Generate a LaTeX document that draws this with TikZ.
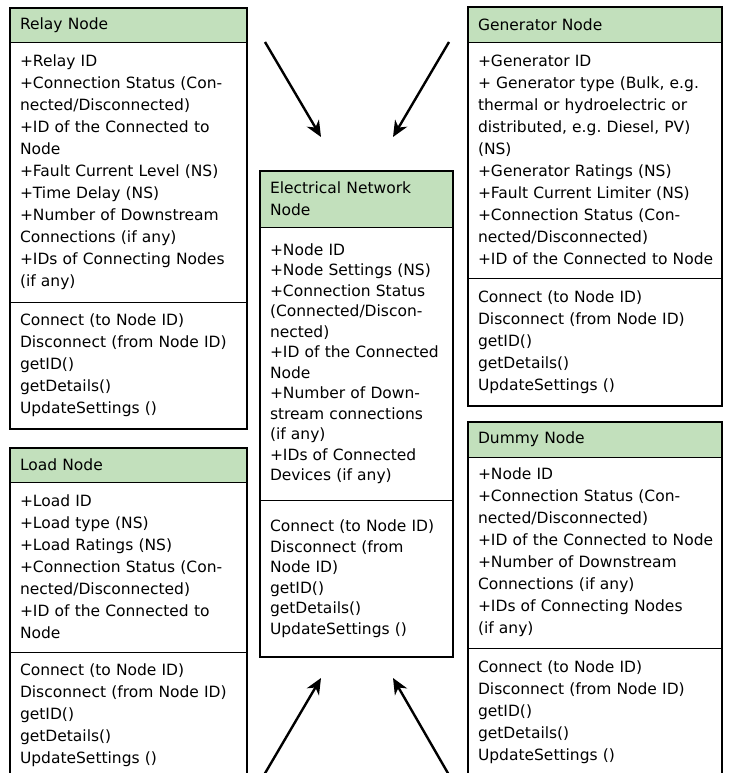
\documentclass[tikz,border=0pt]{standalone}
\usepackage{fontspec}
\newfontfamily\umlfont{DejaVu Sans}
\usepackage{tikz}
\usetikzlibrary{positioning, fit, arrows.meta}
\definecolor{headGreen}{RGB}{194,224,188}
\frenchspacing

\begin{document}
\begin{tikzpicture}[
                x=1pt, y=-1pt,
                % Box Styles
                classPart/.style = {rectangle, draw, line width=0.9pt, inner xsep=10pt, inner ysep=0pt, outer sep=0pt, align=left, font=\umlfont\fontsize{15.5}{22}\selectfont},
                classHead/.style = {classPart, fill=headGreen, anchor=north west},
                classBody/.style = {classPart, fill=white},
                centerBody/.style = {classBody, font=\umlfont\fontsize{15.5}{20.5}\selectfont},
                classFrame/.style = {rectangle, draw, line width=2.4pt, inner sep=0pt},
                % Arrow Style
                linkArrow/.style = {-{Stealth[length=16pt, width=14pt, inset=5pt]}, line width=2.4pt}
            ]
                \useasboundingbox (0,0) rectangle (729,773);
                \clip (0,0) rectangle (729,773);

                % ==========================================
                % LEFT COLUMN: RELAY AND LOAD
                % ==========================================
                \node[classHead, text width=217pt, minimum height=34pt] (relayHead) at (10,8) {Relay Node};
                \node[classBody, text width=217pt, minimum height=260pt, below=0pt of relayHead] (relayAttr) {+Relay ID\\
                    +Connection Status (Con-\\ nected/Disconnected)\\ +ID of the Connected to\\ Node\\
                    +Fault Current Level (NS)\\ +Time Delay (NS)\\ +Number of Downstream\\
                    Connections (if any)\\ +IDs of Connecting Nodes\\ (if any)};
                \node[classBody, text width=217pt, minimum height=127pt, below=0pt of relayAttr] (relayMeth) {Connect (to Node ID)\\
                    Disconnect (from Node ID)\\ getID()\\ getDetails()\\ UpdateSettings ()};

                \node[classHead, text width=217pt, minimum height=34pt] (loadHead) at (10,448) {Load Node};
                \node[classBody, text width=217pt, minimum height=170pt, below=0pt of loadHead] (loadAttr) {+Load ID\\
                    +Load type (NS)\\ +Load Ratings (NS)\\ +Connection Status (Con-\\
                    nected/Disconnected)\\ +ID of the Connected to\\ Node};
                \node[classBody, text width=217pt, minimum height=127pt, below=0pt of loadAttr] (loadMeth) {Connect (to Node ID)\\
                    Disconnect (from Node ID)\\ getID()\\ getDetails()\\ UpdateSettings ()};

                % ==========================================
                % CENTRE: ELECTRICAL NETWORK NODE
                % ==========================================
                \node[classHead, text width=173pt, minimum height=56pt] (netHead) at (260,171) {Electrical Network\\ Node};
                \node[centerBody, text width=173pt, minimum height=273pt, below=0pt of netHead] (netAttr) {+Node ID\\
                    +Node Settings (NS)\\ +Connection Status\\ (Connected/Discon-\\ nected)\\
                    +ID of the Connected\\ Node\\ +Number of Down-\\ stream connections\\
                    (if any)\\ +IDs of Connected\\ Devices (if any)};
                \node[centerBody, text width=173pt, minimum height=157pt, below=0pt of netAttr] (netMeth) {Connect (to Node ID)\\
                    Disconnect (from\\ Node ID)\\ getID()\\ getDetails()\\ UpdateSettings ()};

                % ==========================================
                % RIGHT COLUMN: GENERATOR AND DUMMY
                % ==========================================
                \node[classHead, text width=234pt, minimum height=35pt] (genHead) at (468,7) {Generator Node};
                \node[classBody, text width=234pt, minimum height=236pt, below=0pt of genHead] (genAttr) {+Generator ID\\
                    + Generator type (Bulk, e.g.\\ thermal or hydroelectric or\\
                    distributed, e.g. Diesel, PV)\\ (NS)\\ +Generator Ratings (NS)\\
                    +Fault Current Limiter (NS)\\ +Connection Status (Con-\\
                    nected/Disconnected)\\ \mbox{+ID of the Connected to Node}};
                \node[classBody, text width=234pt, minimum height=128pt, below=0pt of genAttr] (genMeth) {Connect (to Node ID)\\
                    Disconnect (from Node ID)\\ getID()\\ getDetails()\\ UpdateSettings ()};

                \node[classHead, text width=234pt, minimum height=35pt] (dummyHead) at (468,422) {Dummy Node};
                \node[classBody, text width=234pt, minimum height=191pt, below=0pt of dummyHead] (dummyAttr) {+Node ID\\
                    +Connection Status (Con-\\ nected/Disconnected)\\ \mbox{+ID of the Connected to Node}\\
                    +Number of Downstream\\ Connections (if any)\\ +IDs of Connecting Nodes\\ (if any)};
                \node[classBody, text width=234pt, minimum height=128pt, below=0pt of dummyAttr] (dummyMeth) {Connect (to Node ID)\\
                    Disconnect (from Node ID)\\ getID()\\ getDetails()\\ UpdateSettings ()};

                % Thick class outlines
                \node[classFrame, fit=(relayHead) (relayMeth)] (relay) {};
                \node[classFrame, fit=(loadHead) (loadMeth)] (load) {};
                \node[classFrame, fit=(netHead) (netMeth)] (net) {};
                \node[classFrame, fit=(genHead) (genMeth)] (gen) {};
                \node[classFrame, fit=(dummyHead) (dummyMeth)] (dummy) {};

                % ==========================================
                % ARROWS TOWARDS THE NETWORK NODE
                % ==========================================
                \coordinate (relayTail) at ([xshift=18pt]relayHead.south east);
                \coordinate (relayTip) at ([xshift=61pt, yshift=34pt]netHead.north west);
                \coordinate (genTail) at ([xshift=-19pt]genHead.south west);
                \coordinate (genTip) at ([xshift=-60pt, yshift=34pt]netHead.north east);
                \coordinate (loadTail) at ([xshift=17pt, yshift=-123pt]loadMeth.north east);
                \coordinate (loadTip) at ([xshift=61pt, yshift=-21pt]netMeth.south west);
                \coordinate (dummyTail) at ([xshift=-19pt, yshift=-127pt]dummyMeth.north west);
                \coordinate (dummyTip) at ([xshift=-60pt, yshift=-21pt]netMeth.south east);

                \draw[linkArrow] (relayTail) -- (relayTip);
                \draw[linkArrow] (genTail) -- (genTip);
                \draw[linkArrow] (loadTail) -- (loadTip);
                \draw[linkArrow] (dummyTail) -- (dummyTip);

            \end{tikzpicture}
\end{document}
